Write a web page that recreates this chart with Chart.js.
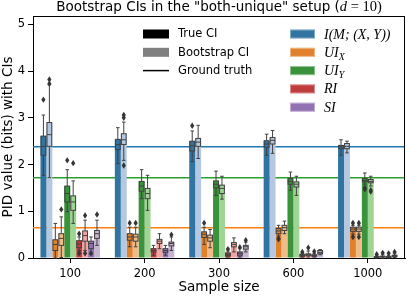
<!DOCTYPE html>
<html>
<head>
<meta charset="utf-8">
<script src="https://cdn.jsdelivr.net/npm/chart.js@4.4.1/dist/chart.umd.min.js"></script>
<style>
  html, body { margin: 0; padding: 0; background: #fff; }
  #wrap { width: 407px; height: 297px; }
</style>
</head>
<body>
<div id="wrap"><canvas id="chart" width="407" height="297"></canvas></div>
<script>
// Categories and axis ticks
const sampleSizes = ['100', '200', '300', '600', '1000'];
const yTicks = [0, 1, 2, 3, 4, 5];

// Box stats per sample size: [whisker low, q1, median, q3, whisker high]
// (the bar height is the q3 value)
const trueI = [[1.77, 2.20, 2.39, 2.61, 3.06], [2.02, 2.32, 2.43, 2.54, 2.79], [2.06, 2.29, 2.40, 2.50, 2.72], [2.20, 2.37, 2.44, 2.51, 2.65], [2.20, 2.34, 2.38, 2.41, 2.53]];
const bootI = [[1.72, 2.39, 2.64, 2.90, 3.71], [2.09, 2.43, 2.53, 2.66, 2.91], [2.13, 2.39, 2.48, 2.56, 2.84], [2.24, 2.44, 2.52, 2.58, 2.73], [2.25, 2.34, 2.39, 2.45, 2.50]];
const trueUIX = [[0.00, 0.16, 0.29, 0.39, 0.74], [0.24, 0.38, 0.45, 0.52, 0.66], [0.29, 0.44, 0.51, 0.56, 0.66], [0.47, 0.52, 0.58, 0.63, 0.70], [0.51, 0.57, 0.62, 0.66, 0.70]];
const bootUIX = [[0.01, 0.27, 0.42, 0.52, 0.88], [0.24, 0.36, 0.45, 0.51, 0.66], [0.22, 0.36, 0.43, 0.49, 0.61], [0.52, 0.59, 0.65, 0.70, 0.79], [0.51, 0.57, 0.62, 0.66, 0.70]];
const trueUIY = [[0.99, 1.20, 1.38, 1.54, 1.89], [1.27, 1.43, 1.54, 1.64, 1.89], [1.34, 1.50, 1.58, 1.65, 1.86], [1.45, 1.58, 1.64, 1.70, 1.84], [1.58, 1.63, 1.66, 1.70, 1.82]];
const bootUIY = [[0.74, 1.02, 1.20, 1.33, 1.65], [1.02, 1.27, 1.38, 1.49, 1.77], [1.26, 1.38, 1.49, 1.56, 1.75], [1.34, 1.52, 1.58, 1.63, 1.75], [1.54, 1.61, 1.64, 1.68, 1.75]];
const trueRI = [[0.16, 0.22, 0.30, 0.37, 0.45], [0.06, 0.13, 0.16, 0.20, 0.27], [0.02, 0.05, 0.08, 0.11, 0.15], [0.02, 0.04, 0.05, 0.08, 0.10], [0.00, 0.01, 0.02, 0.03, 0.05]];
const bootRI = [[0.16, 0.36, 0.48, 0.58, 0.81], [0.20, 0.31, 0.36, 0.40, 0.52], [0.13, 0.24, 0.29, 0.33, 0.43], [0.02, 0.05, 0.07, 0.09, 0.15], [0.00, 0.02, 0.03, 0.04, 0.07]];
const trueSI = [[0.08, 0.20, 0.31, 0.36, 0.45], [0.06, 0.12, 0.16, 0.20, 0.27], [0.02, 0.06, 0.10, 0.13, 0.20], [0.02, 0.04, 0.05, 0.07, 0.10], [0.00, 0.01, 0.02, 0.03, 0.05]];
const bootSI = [[0.27, 0.42, 0.52, 0.59, 0.81], [0.16, 0.26, 0.31, 0.34, 0.45], [0.13, 0.19, 0.24, 0.27, 0.34], [0.07, 0.09, 0.12, 0.16, 0.18], [0.01, 0.03, 0.05, 0.06, 0.09]];

// Outliers per sample size
const trueIFliers = [[3.39], [], [2.83], [], []];
const bootIFliers = [[3.73, 3.82], [3.00, 3.06, 1.98], [], [], []];
const trueUIXFliers = [[], [0.75], [0.75], [0.42, 0.40], [0.75, 0.45]];
const bootUIXFliers = [[1.04], [0.75], [], [], [0.75, 0.45]];
const trueUIYFliers = [[2.09], [], [], [], [1.50, 1.47]];
const bootUIYFliers = [[2.03], [], [], [], [1.45, 1.42]];
const trueRIFliers = [[0.52, 0.10], [], [0.19], [0.13], [0.08]];
const bootRIFliers = [[0.91, 0.10], [], [], [0.22], [0.11]];
const trueSIFliers = [[0.10], [], [0.23], [0.14], [0.10]];
const bootSIFliers = [[0.93], [0.50], [0.38], [], [0.13]];

// Ground truth values: I, UI_X, UI_Y
const groundTruth = [2.38, 0.65, 1.72];

// Legend labels
const ciLegend = ['True CI', 'Bootstrap CI', 'Ground truth'];
const measureLegend = [[['I(M; (X, Y))', 0]], [['UI', 0], ['X', 1]], [['UI', 0], ['Y', 1]], [['RI', 0]], [['SI', 0]]];

// Colours
const darkColors = ['#3274a1', '#e1812c', '#3a923a', '#c03d3e', '#9372b2'];
const lightColors = ['#b5c8e1', '#eebb89', '#9fd495', '#f2a5a3', '#c4b5d0'];
const lineColors = ['#1f77b4', '#ff7f0e', '#2ca02c'];
const boxEdge = '#404040';

const SANS = '"DejaVu Sans", sans-serif';
const SERIF = '"Liberation Serif", "DejaVu Serif", serif';

const statSets = [
    [trueI, bootI], [trueUIX, bootUIX], [trueUIY, bootUIY], [trueRI, bootRI], [trueSI, bootSI]
];
const flierSets = [
    [trueIFliers, bootIFliers], [trueUIXFliers, bootUIXFliers], [trueUIYFliers, bootUIYFliers],
    [trueRIFliers, bootRIFliers], [trueSIFliers, bootSIFliers]
];

// one bar dataset per measure and CI type, true first
const datasets = [];
statSets.forEach((pair, m) => {
    pair.forEach((stats, k) => {
        datasets.push({
            data: stats.map(s => s[3]),
            stats: stats,
            fliers: flierSets[m][k],
            backgroundColor: k === 0 ? darkColors[m] : lightColors[m],
            borderWidth: 0,
            categoryPercentage: 0.8,
            barPercentage: 1.0
        });
    });
});

function line(ctx, x1, y1, x2, y2) {
    ctx.beginPath();
    ctx.moveTo(x1, y1);
    ctx.lineTo(x2, y2);
    ctx.stroke();
}

/**
 * Draw one box with whiskers and fliers on top of a bar
 */
function drawBox(ctx, cx, w, s, fl, fill, y) {
    const bw = w * 0.8;
    const cw = w * 0.6;
    const p = s.map(v => y.getPixelForValue(v));
    ctx.strokeStyle = boxEdge;
    ctx.lineWidth = 1;
    line(ctx, cx, p[0], cx, p[1]);
    line(ctx, cx, p[3], cx, p[4]);
    line(ctx, cx - cw / 2, p[0], cx + cw / 2, p[0]);
    line(ctx, cx - cw / 2, p[4], cx + cw / 2, p[4]);
    ctx.fillStyle = fill;
    ctx.fillRect(cx - bw / 2, p[3], bw, p[1] - p[3]);
    ctx.strokeRect(cx - bw / 2, p[3], bw, p[1] - p[3]);
    line(ctx, cx - bw / 2, p[2], cx + bw / 2, p[2]);
    ctx.fillStyle = '#353535';
    fl.forEach(v => {
        const py = y.getPixelForValue(v);
        ctx.beginPath();
        ctx.moveTo(cx, py - 3.2);
        ctx.lineTo(cx + 2.1, py);
        ctx.lineTo(cx, py + 3.2);
        ctx.lineTo(cx - 2.1, py);
        ctx.closePath();
        ctx.fill();
    });
}

/**
 * Draw text with optional subscripts, in math italic
 */
function drawMath(ctx, parts, x, y, size) {
    let cx = x;
    parts.forEach(([t, sub]) => {
        const fs = sub ? size * 0.7 : size;
        ctx.font = 'italic ' + fs + 'px ' + SERIF;
        ctx.fillText(t, cx, sub ? y + size * 0.22 : y);
        cx += ctx.measureText(t).width;
    });
}

const decorPlugin = {
    id: 'decor',
    beforeDatasetsDraw(chart) {
        const { ctx, chartArea: a } = chart;
        const y = chart.scales.y;
        ctx.save();
        ctx.lineWidth = 1.5;
        groundTruth.forEach((v, i) => {
            const py = y.getPixelForValue(v);
            ctx.strokeStyle = lineColors[i];
            line(ctx, a.left, py, a.right, py);
        });
        ctx.restore();
    },
    afterDatasetsDraw(chart) {
        const ctx = chart.ctx;
        const y = chart.scales.y;
        ctx.save();
        chart.data.datasets.forEach((ds, di) => {
            chart.getDatasetMeta(di).data.forEach((bar, j) => {
                drawBox(ctx, bar.x, bar.width, ds.stats[j], ds.fliers[j], ds.backgroundColor, y);
            });
        });
        ctx.restore();
    },
    afterDraw(chart) {
        const { ctx, chartArea: a } = chart;
        ctx.save();
        // top and right spines
        ctx.strokeStyle = '#000';
        ctx.lineWidth = 1;
        line(ctx, a.left, a.top + 0.5, a.right, a.top + 0.5);
        line(ctx, a.right - 0.5, a.top, a.right - 0.5, a.bottom);

        // title
        ctx.fillStyle = '#000';
        ctx.textBaseline = 'alphabetic';
        const head = 'Bootstrap CIs in the "both-unique" setup (';
        ctx.font = '13.5px ' + SANS;
        const w1 = ctx.measureText(head).width;
        ctx.font = 'italic 14.5px ' + SERIF;
        const w2 = ctx.measureText('d').width;
        ctx.font = '14.5px ' + SERIF;
        const tail = ' = 10)';
        const w3 = ctx.measureText(tail).width;
        let tx = (a.left + a.right) / 2 - (w1 + w2 + w3) / 2;
        ctx.font = '13.5px ' + SANS;
        ctx.fillText(head, tx, 11);
        tx += w1;
        ctx.font = 'italic 14.5px ' + SERIF;
        ctx.fillText('d', tx, 11);
        tx += w2;
        ctx.font = '14.5px ' + SERIF;
        ctx.fillText(tail, tx, 11);

        // CI legend
        const rowY = [34, 52.3, 70.6, 88.9, 107.2];
        ctx.textBaseline = 'middle';
        ctx.font = '11.5px ' + SANS;
        ciLegend.forEach((label, i) => {
            if (i < 2) {
                ctx.fillStyle = i === 0 ? '#000' : '#808080';
                ctx.fillRect(143, rowY[i] - 4.5, 26, 9);
            } else {
                ctx.strokeStyle = '#000';
                ctx.lineWidth = 1.5;
                line(ctx, 143, rowY[i], 169, rowY[i]);
            }
            ctx.fillStyle = '#000';
            ctx.fillText(label, 178, rowY[i] + 0.5);
        });

        // measure legend
        measureLegend.forEach((parts, i) => {
            ctx.fillStyle = darkColors[i];
            ctx.fillRect(290, rowY[i] - 4.5, 25, 9);
            ctx.strokeStyle = 'rgba(255,255,255,0.5)';
            ctx.lineWidth = 0.8;
            ctx.strokeRect(290.5, rowY[i] - 4, 24, 8);
            ctx.fillStyle = '#000';
            ctx.textBaseline = 'alphabetic';
            drawMath(ctx, parts, 324, rowY[i] + 4.5, 14);
        });
        ctx.restore();
    }
};

const axisFont = { family: SANS, size: 13.5 };
const tickFont = { family: SANS, size: 11.5 };

new Chart(document.getElementById('chart'), {
    type: 'bar',
    data: { labels: sampleSizes, datasets: datasets },
    options: {
        responsive: false,
        animation: false,
        devicePixelRatio: 1,
        layout: { padding: { top: 16, right: 2, left: 0, bottom: 0 } },
        plugins: {
            legend: { display: false },
            title: { display: false },
            tooltip: { enabled: false }
        },
        scales: {
            x: {
                offset: true,
                grid: { display: true, drawOnChartArea: false, drawTicks: true, tickLength: 5, color: '#000', offset: false },
                border: { display: true, color: '#000', width: 1 },
                ticks: { color: '#000', font: tickFont, padding: 4, maxRotation: 0 },
                title: { display: true, text: 'Sample size', color: '#000', font: axisFont, padding: { top: 0, bottom: 1 } },
                afterFit: s => { s.height = 39; }
            },
            y: {
                min: 0,
                max: 5.18,
                grid: { display: true, drawOnChartArea: false, drawTicks: true, tickLength: 5, color: '#000' },
                border: { display: true, color: '#000', width: 1 },
                ticks: { color: '#000', font: tickFont, padding: 3 },
                afterBuildTicks: s => { s.ticks = yTicks.map(v => ({ value: v })); },
                title: { display: true, text: 'PID value (bits) with CIs', color: '#000', font: axisFont, padding: { top: 0, bottom: 0 } },
                afterFit: s => { s.width = 33; }
            }
        }
    },
    plugins: [decorPlugin]
});
</script>
</body>
</html>
